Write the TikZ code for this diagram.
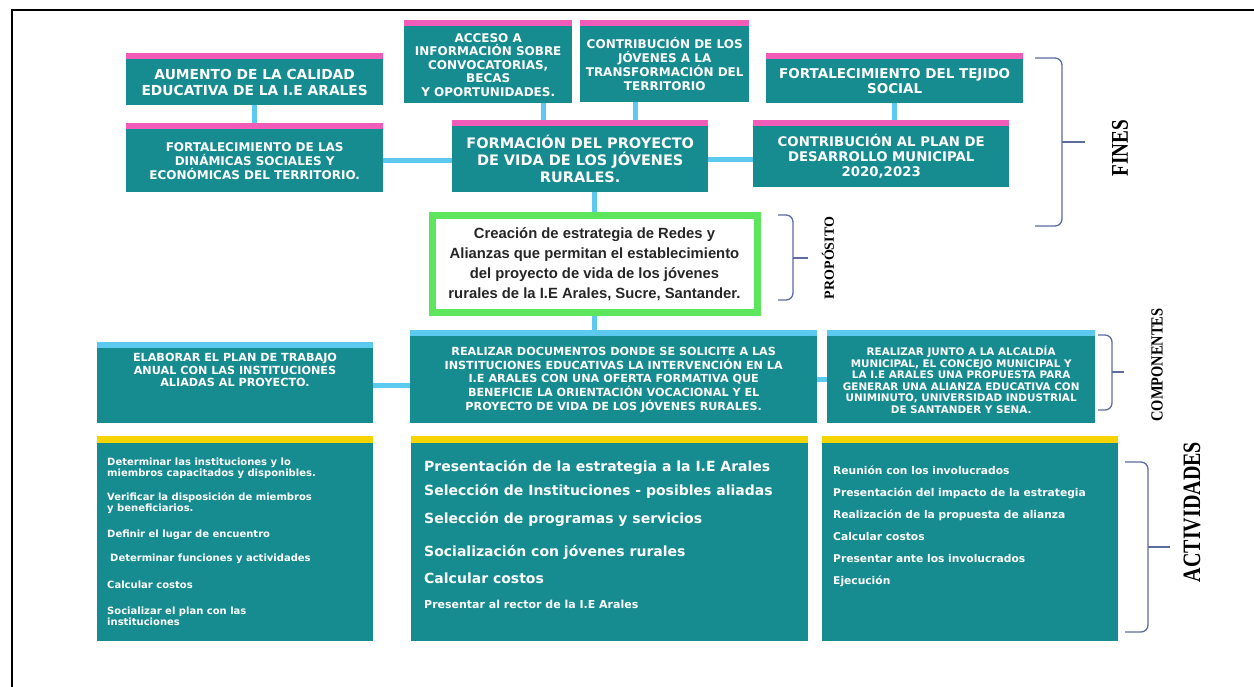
\documentclass[tikz,border=0pt]{standalone}
\usepackage{graphicx}
\usepackage{fontspec}
\setmainfont{DejaVu Sans}
\newfontfamily\serifb{Liberation Serif}
\newfontfamily\arialb{Liberation Sans}
\usetikzlibrary{positioning}
\definecolor{boxteal}{RGB}{22,140,145}
\definecolor{pinkbar}{RGB}{240,92,184}
\definecolor{skyline}{RGB}{92,201,238}
\definecolor{yellowbar}{RGB}{246,212,0}
\definecolor{greenframe}{RGB}{94,229,94}
\definecolor{bracecol}{RGB}{92,108,158}
\definecolor{darktext}{RGB}{38,38,38}
\newcommand{\fsz}[2]{\bfseries\fontsize{#1}{#2}\selectfont}

\begin{document}
\begin{tikzpicture}[x=1pt, y=-1pt]
	\tikzstyle{panel} = [rectangle, fill=boxteal, text=white, align=center, anchor=north west, inner sep=0pt]
	\tikzstyle{puretext} = [text=white, inner sep=0pt]
	\tikzstyle{purpose} = [rectangle, draw=greenframe, line width=7pt, fill=white, text=darktext, align=center, anchor=north west, inner sep=0pt]
	\tikzstyle{link} = [draw=skyline, line width=5pt]
	\tikzstyle{curly} = [draw=bracecol, line width=1.3pt, rounded corners=7pt]
	\tikzstyle{sidelabel} = [rotate=90, inner sep=0pt, text=black]

	\useasboundingbox (0,0) rectangle (1254,687);
	\draw[line width=2pt] (12,687) -- (12,10) -- (1254,10);

	    % Place nodes
	    \node [panel, minimum width=257pt, minimum height=46pt, font=\fsz{13.8}{16}] (fA) at (126,59) {AUMENTO DE LA CALIDAD\\EDUCATIVA DE LA I.E ARALES};
	    \node [panel, minimum width=257pt, minimum height=63pt, font=\fsz{12}{14}] (fB) at (126,129) {FORTALECIMIENTO DE LAS\\DIN\'AMICAS SOCIALES Y\\ECON\'OMICAS DEL TERRITORIO.};
	    \node [panel, minimum width=168pt, minimum height=77pt, font=\fsz{12}{13.5}] (fC) at (404,26) {ACCESO A\\INFORMACI\'ON SOBRE\\CONVOCATORIAS,\\BECAS\\Y OPORTUNIDADES.};
	    \node [panel, minimum width=169pt, minimum height=76pt, font=\fsz{12}{13.5}] (fD) at (580,26) {CONTRIBUCI\'ON DE LOS\\J\'OVENES A LA\\TRANSFORMACI\'ON DEL\\TERRITORIO};
	    \node [panel, minimum width=256pt, minimum height=66pt, font=\fsz{14.5}{17}] (fE) at (452,126) {FORMACI\'ON DEL PROYECTO\\DE VIDA DE LOS J\'OVENES\\RURALES.};
	    \node [panel, minimum width=257pt, minimum height=44pt, font=\fsz{13.5}{15}] (fF) at (766,59) {FORTALECIMIENTO DEL TEJIDO\\SOCIAL};
	    \node [panel, minimum width=256pt, minimum height=61pt, font=\fsz{13.3}{15}] (fG) at (753,126) {CONTRIBUCI\'ON AL PLAN DE\\DESARROLLO MUNICIPAL\\2020,2023};

	    \node [purpose, minimum width=325pt, minimum height=97pt, font=\arialb\fsz{14.8}{20}] (pur) at (428.5,212.5) {Creaci\'on de estrategia de Redes y\\Alianzas que permitan el establecimiento\\del proyecto de vida de los j\'ovenes\\rurales de la I.E Arales, Sucre, Santander.};

	    \node [panel, minimum width=276pt, minimum height=75pt] (cL) at (97,348) {};
	    \node [puretext, align=center, font=\fsz{11.2}{12.8}] (cLt) at (235,370) {ELABORAR EL PLAN DE TRABAJO\\ANUAL CON LAS INSTITUCIONES\\ALIADAS AL PROYECTO.};
	    \node [panel, minimum width=407pt, minimum height=87pt, font=\fsz{11.2}{13.7}] (cM) at (410,336) {REALIZAR DOCUMENTOS DONDE SE SOLICITE A LAS\\INSTITUCIONES EDUCATIVAS LA INTERVENCI\'ON EN LA\\I.E ARALES CON UNA OFERTA FORMATIVA QUE\\BENEFICIE LA ORIENTACI\'ON VOCACIONAL Y EL\\PROYECTO DE VIDA DE LOS J\'OVENES RURALES.};
	    \node [panel, minimum width=268pt, minimum height=87pt, font=\fsz{10.4}{11.6}] (cR) at (827,336) {REALIZAR JUNTO A LA ALCALD\'IA\\MUNICIPAL, EL CONCEJO MUNICIPAL Y\\LA I.E ARALES UNA PROPUESTA PARA\\GENERAR UNA ALIANZA EDUCATIVA CON\\UNIMINUTO, UNIVERSIDAD INDUSTRIAL\\DE SANTANDER Y SENA.};

	    \node [panel, minimum width=276pt, minimum height=198pt] (aL) at (97,443) {};
	    \node [panel, minimum width=397pt, minimum height=198pt] (aM) at (411,443) {};
	    \node [panel, minimum width=296pt, minimum height=198pt] (aR) at (822,443) {};

	    \node [puretext, align=left, anchor=north west, font=\fsz{10}{10.5}] (aLt) at (107,458) {Determinar las instituciones y lo\\miembros capacitados y disponibles.\\[14pt]Verificar la disposici\'on de miembros\\y beneficiarios.\\[16pt]Definir el lugar de encuentro\\[13.5pt]\hspace*{3pt}Determinar funciones y actividades\\[16.5pt]Calcular costos\\[15.5pt]Socializar el plan con las\\instituciones};
	    \node [puretext, align=left, anchor=north west, font=\fsz{14}{24}] (aMt) at (424,460) {Presentaci\'on de la estrategia a la I.E Arales\\Selecci\'on de Instituciones - posibles aliadas\\[4pt]Selecci\'on de programas y servicios\\[9pt]Socializaci\'on con j\'ovenes rurales\\[3pt]Calcular costos\\[1pt]{\fsz{11}{12}Presentar al rector de la I.E Arales}};
	    \node [puretext, align=left, anchor=north west, font=\fsz{10.7}{22}] (aRt) at (833,466) {Reuni\'on con los involucrados\\Presentaci\'on del impacto de la estrategia\\Realizaci\'on de la propuesta de alianza\\Calcular costos\\Presentar ante los involucrados\\Ejecuci\'on};

	    \node [sidelabel, font=\serifb\fsz{24}{24}] (lfin) at (1120,148) {\scalebox{0.8}[1]{FINES}};
	    \node [sidelabel, font=\serifb\fsz{14}{14}] (lpro) at (828,258) {PROP\'OSITO};
	    \node [sidelabel, font=\serifb\fsz{17}{17}] (lcom) at (1157,365) {\scalebox{0.85}[1]{COMPONENTES}};
	    \node [sidelabel, font=\serifb\fsz{25}{25}] (lact) at (1192,512) {\scalebox{0.8}[1]{ACTIVIDADES}};

	    % Draw edges
	    \path [link] (fA.south) -- (fA.south |- fB.north);
	    \path [link] (fB.east) -- (fB.east -| fE.west);
	    \path [link] ([xshift=55pt]fC.south) -- ([xshift=55pt]fC.south |- fE.north);
	    \path [link] ([xshift=-29pt]fD.south) -- ([xshift=-29pt]fD.south |- fE.north);
	    \path [link] (fE.east) -- (fE.east -| fG.west);
	    \path [link] (fF.south) -- (fF.south |- fG.north);
	    \path [link] (fE.south -| pur.north) -- (pur.north);
	    \path [link] (pur.south) -- (pur.south |- cM.north);
	    \path [link] (cL.east) -- (cL.east -| cM.west);
	    \path [link] (cM.east) -- (cM.east -| cR.west);

	    % Top bars
	    \foreach \n in {fA,fB,fC,fD,fE,fF,fG}
	        \fill [pinkbar] (\n.north west) rectangle ([yshift=6pt]\n.north east);
	    \foreach \n in {cL,cM,cR}
	        \fill [skyline] (\n.north west) rectangle ([yshift=6pt]\n.north east);
	    \foreach \n in {aL,aM,aR}
	        \fill [yellowbar] (\n.north west) rectangle ([yshift=7pt]\n.north east);

	    % Braces
	    \draw [curly] (1035,58) -| (1062,142) |- (1035,226);
	    \draw [curly] (1062,142) -- (1085,142);
	    \draw [curly] (778,215) -| (793,258) |- (778,300);
	    \draw [curly] (793,258) -- (808,258);
	    \draw [curly] (1098,335) -| (1112,372) |- (1098,410);
	    \draw [curly] (1112,372) -- (1124,372);
	    \draw [curly] (1125,462) -| (1148,547) |- (1125,632);
	    \draw [curly] (1148,547) -- (1170,547);

	\end{tikzpicture}
\end{document}
